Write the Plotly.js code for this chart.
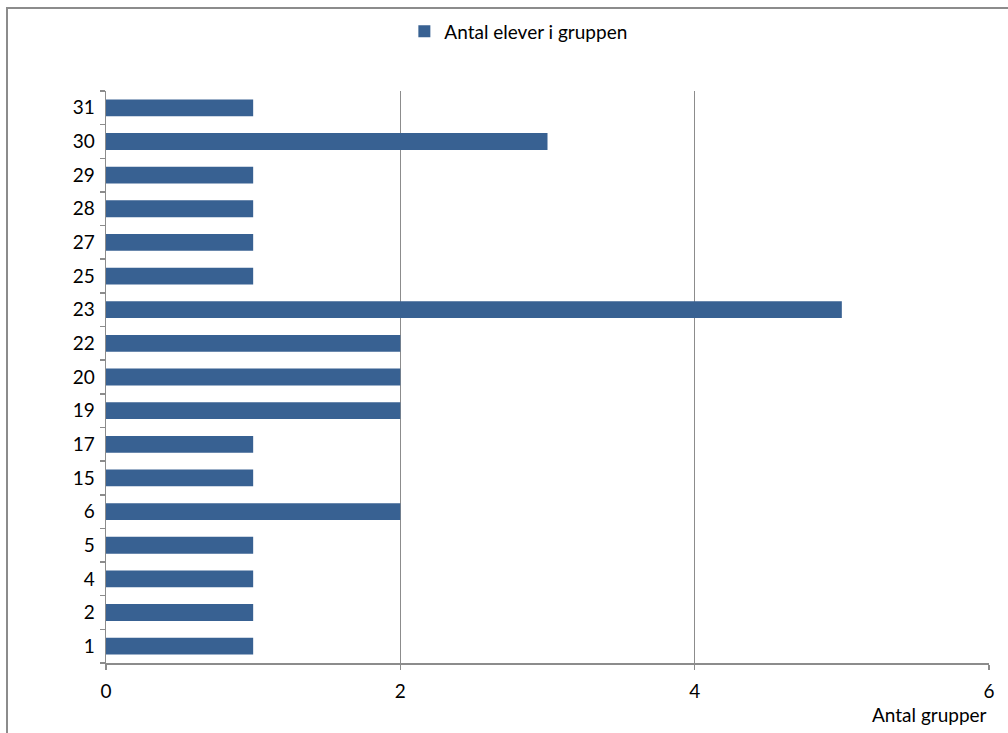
<!DOCTYPE html>
<html>
<head>
<meta charset="utf-8">
<script src="https://cdn.plot.ly/plotly-3.0.1.min.js"></script>
<style>
  html, body { margin: 0; padding: 0; background: #fff; }
  #frame { position: absolute; left: 6px; top: 7px; width: 1010px; height: 740px;
           border-left: 2px solid #8c8c8c; border-top: 2px solid #8c8c8c; }
  #chart { position: absolute; left: 0; top: 0; width: 1008px; height: 733px; }
</style>
</head>
<body>
<div id="frame"></div>
<div id="chart"></div>
<script>
const categories = ["1", "2", "4", "5", "6", "15", "17", "19", "20", "22", "23", "25", "27", "28", "29", "30", "31"];
const groupCounts = [1, 1, 1, 1, 2, 1, 1, 2, 2, 2, 5, 1, 1, 1, 1, 3, 1];
const seriesName = "Antal elever i gruppen";
const xTitle = "Antal grupper";

const font = "Lato, 'Open Sans', sans-serif";
const fs = 19;

const trace = {
  type: "bar",
  orientation: "h",
  y: categories,
  x: groupCounts,
  name: seriesName,
  marker: { color: "#386192" },
  showlegend: true
};

const layout = {
  width: 1008, height: 733,
  margin: { l: 106, r: 19, t: 86, b: 70 },
  paper_bgcolor: "rgba(0,0,0,0)",
  plot_bgcolor: "rgba(0,0,0,0)",
  font: { family: font, size: fs, color: "#000" },
  bargap: 0.5,
  showlegend: true,
  legend: {
    orientation: "h", x: 0.467, xanchor: "center", y: 1.104, yanchor: "middle",
    font: { family: font, size: fs, color: "#000" }
  },
  xaxis: {
    range: [0, 6], dtick: 2, tick0: 0,
    showgrid: true, gridcolor: "#8c8c8c", gridwidth: 1.5,
    showline: true, linecolor: "#8c8c8c", linewidth: 1.5,
    ticks: "outside", ticklen: 5, tickcolor: "#8c8c8c", tickwidth: 1.5,
    ticklabelstandoff: 6,
    zeroline: false,
    tickfont: { family: font, size: fs, color: "#000" }
  },
  yaxis: {
    type: "category",
    categoryorder: "array", categoryarray: categories,
    showgrid: false,
    showline: true, linecolor: "#8c8c8c", linewidth: 1.5,
    ticks: "outside", ticklen: 5, tickcolor: "#8c8c8c", tickwidth: 1.5,
    tickson: "boundaries",
    ticklabelstandoff: 6,
    tickfont: { family: font, size: fs, color: "#000" }
  },
  annotations: [{
    text: xTitle, xref: "paper", yref: "paper",
    x: 1.0, xanchor: "right", y: -0.09, yanchor: "middle",
    showarrow: false, font: { family: font, size: fs, color: "#000" }
  }]
};

Plotly.newPlot("chart", [trace], layout, { displayModeBar: false, staticPlot: true });
</script>
</body>
</html>
